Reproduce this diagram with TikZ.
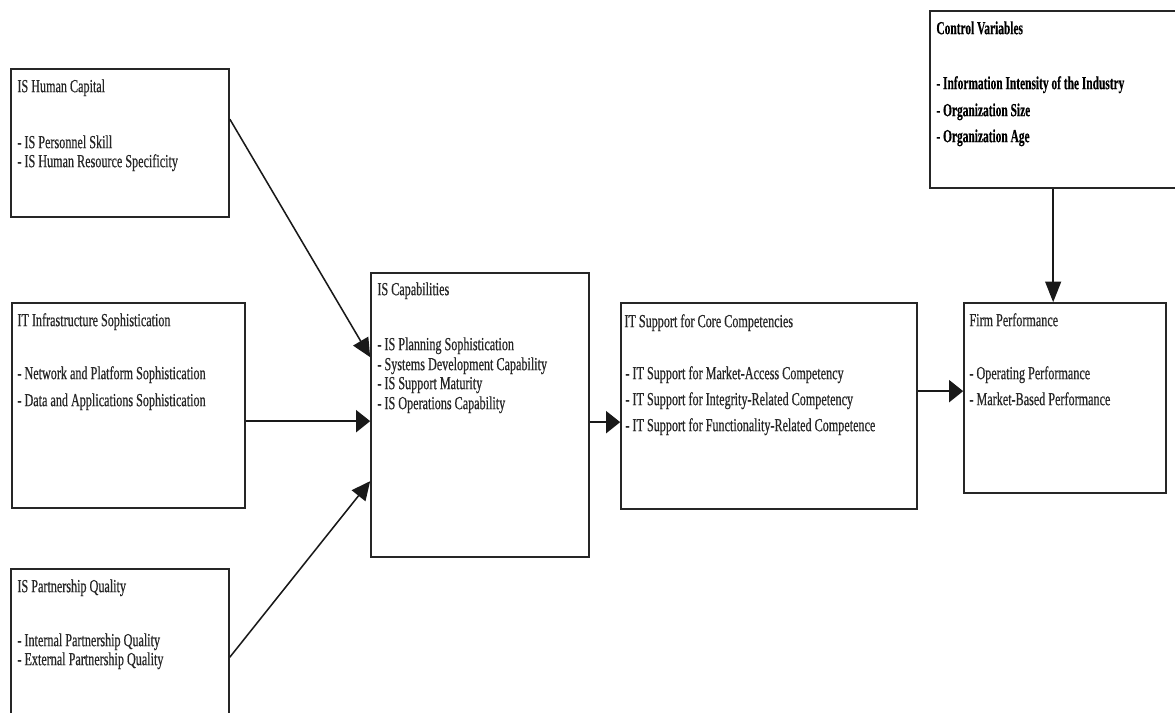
\documentclass[tikz,border=0pt]{standalone}
\usepackage{fontspec}
\setmainfont[FakeStretch=0.66,FakeBold=0.5]{Liberation Serif}
\newfontfamily\ctlfont[FakeStretch=0.62,FakeBold=0.4]{Liberation Serif}
\usetikzlibrary{arrows.meta,calc,fit}

\begin{document}
\begin{tikzpicture}[x=0.75pt,y=-0.75pt,
  box/.style={draw=black!85, line width=1.25pt, inner sep=0pt, fill=white},
  lbl/.style={anchor=base west, inner sep=0pt, text=black!85,
    font=\fontsize{13.8}{15}\selectfont},
  ctl/.style={anchor=base west, inner sep=0pt, text=black,
    font=\ctlfont\bfseries\fontsize{13.8}{15}\selectfont},
  link/.style={line width=1.15pt, draw=black!90},
  harr/.style={link, -{Triangle[length=10.5pt,width=16.5pt]}},
  varr/.style={link, -{Triangle[length=15.5pt,width=12pt]}},
  darr/.style={link, -{Triangle[length=14pt,width=13pt]}}
]
\useasboundingbox (0,0) rectangle (1175,713);
\fill[white] (0,0) rectangle (1175,713);
\clip (0,0) rectangle (1175,713);

% ---- boxes ----
\node[box, fit={(11,69) (229,217)}]   (hc)   {};
\node[box, fit={(12,303) (245,508)}]  (inf)  {};
\node[box, fit={(11,569) (229,740)}]  (pq)   {};
\node[box, fit={(371,273) (589,557)}] (cap)  {};
\node[box, fit={(621,303) (917,509)}] (core) {};
\node[box, fit={(930,11) (1190,188)}] (ctlv) {};
\node[box, fit={(964,303) (1166,493)}] (fp)  {};

% ---- IS Human Capital ----
\node[lbl] (hc0) at ($(hc.north west)+(7,24)$)  {IS Human Capital};
\node[lbl] (hc1) at ($(hc.north west)+(7,80)$)  {- IS Personnel Skill};
\node[lbl] (hc2) at ($(hc.north west)+(7,99)$)  {- IS Human Resource Specificity};

% ---- IT Infrastructure Sophistication ----
\node[lbl] (inf0) at ($(inf.north west)+(6,24)$)  {IT Infrastructure Sophistication};
\node[lbl] (inf1) at ($(inf.north west)+(6,77)$)  {- Network and Platform Sophistication};
\node[lbl] (inf2) at ($(inf.north west)+(6,104)$) {- Data and Applications Sophistication};

% ---- IS Partnership Quality ----
\node[lbl] (pq0) at ($(pq.north west)+(7,24)$)  {IS Partnership Quality};
\node[lbl] (pq1) at ($(pq.north west)+(7,78)$)  {- Internal Partnership Quality};
\node[lbl] (pq2) at ($(pq.north west)+(7,97)$)  {- External Partnership Quality};

% ---- IS Capabilities ----
\node[lbl] (cap0) at ($(cap.north west)+(7,23)$)  {IS Capabilities};
\node[lbl] (cap1) at ($(cap.north west)+(7,78)$)  {- IS Planning Sophistication};
\node[lbl] (cap2) at ($(cap.north west)+(7,98)$)  {- Systems Development Capability};
\node[lbl] (cap3) at ($(cap.north west)+(7,117)$) {- IS Support Maturity};
\node[lbl] (cap4) at ($(cap.north west)+(7,137)$) {- IS Operations Capability};

% ---- IT Support for Core Competencies ----
\node[lbl] (core0) at ($(core.north west)+(4,25)$)  {IT Support for Core Competencies};
\node[lbl] (core1) at ($(core.north west)+(5,77)$)  {- IT Support for Market-Access Competency};
\node[lbl] (core2) at ($(core.north west)+(5,103)$) {- IT Support for Integrity-Related Competency};
\node[lbl] (core3) at ($(core.north west)+(5,129)$) {- IT Support for Functionality-Related Competence};

% ---- Control Variables ----
\node[ctl] (ctl0) at ($(ctlv.north west)+(7,24)$)  {Control Variables};
\node[ctl] (ctl1) at ($(ctlv.north west)+(7,79)$)  {- Information Intensity of the Industry};
\node[ctl] (ctl2) at ($(ctlv.north west)+(7,106)$) {- Organization Size};
\node[ctl] (ctl3) at ($(ctlv.north west)+(7,132)$) {- Organization Age};

% ---- Firm Performance ----
\node[lbl] (fp0) at ($(fp.north west)+(6,24)$)  {Firm Performance};
\node[lbl] (fp1) at ($(fp.north west)+(6,77)$)  {- Operating Performance};
\node[lbl] (fp2) at ($(fp.north west)+(6,103)$) {- Market-Based Performance};

% ---- connectors ----
\draw[darr] ($(hc.north east)+(0,51)$)  -- ($(cap.north west)+(0,85)$);
\draw[harr] ($(inf.north east)+(0,119)$) -- ($(cap.north west)+(0,149)$);
\draw[darr] ($(pq.north east)+(0,89)$)  -- ($(cap.north west)+(0,209)$);
\draw[harr] ($(cap.north east)+(0,150)$) -- ($(core.north west)+(0,120)$);
\draw[harr] ($(core.north east)+(0,89)$) -- ($(fp.north west)+(0,89)$);
\draw[varr] ($(ctlv.south west)+(124,0)$) -- ($(fp.north west)+(90,0)$);
\end{tikzpicture}
\end{document}
